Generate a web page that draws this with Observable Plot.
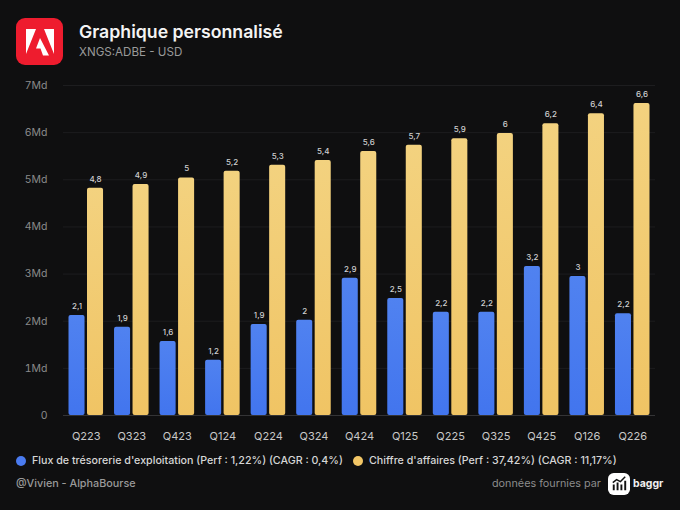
<!DOCTYPE html>
<html lang="fr"><head><meta charset="utf-8">
<script src="https://cdn.jsdelivr.net/npm/d3@7"></script>
<script src="https://cdn.jsdelivr.net/npm/@observablehq/plot@0.6"></script>
<style>
html,body{margin:0;padding:0;background:#0f0f10;width:680px;height:510px;overflow:hidden;font-family:Inter,sans-serif}
#wrap{position:relative;width:680px;height:510px}
#chart{position:absolute;left:0;top:0}
.t{position:absolute;white-space:nowrap;line-height:1}
.dot{position:absolute;width:10px;height:10px;border-radius:50%}
</style></head><body><div id="wrap">
<svg style="position:absolute;left:16px;top:18px" width="47" height="47" viewBox="0 0 47 47">
<rect width="47" height="47" rx="9" fill="#ee1c2e"/>
<path fill="#fff" d="M10 11h10L10 36zM28 11h10v25zM24 20l9 17.500h-6l-2.500-7h-4.500z"/>
</svg>
<div class="t" style="left:79px;top:23px;font-size:17.700px;font-weight:600;color:#f4f4f4">Graphique personnalisé</div>
<div class="t" style="left:79px;top:47px;font-size:11.600px;color:#9a9a9a">XNGS:ADBE - USD</div>
<div id="chart"></div>
<div class="dot" style="left:16px;top:456px;background:#4a7bf0"></div>
<div class="t" style="left:32px;top:456px;font-size:10.700px;font-weight:500;color:#d6d6d6">Flux de trésorerie d'exploitation (Perf : 1,22%) (CAGR : 0,4%)</div>
<div class="dot" style="left:353px;top:456px;background:#f2c666"></div>
<div class="t" style="left:369px;top:456px;font-size:10.700px;font-weight:500;color:#d6d6d6">Chiffre d'affaires (Perf : 37,42%) (CAGR : 11,17%)</div>
<div class="t" style="left:16px;top:479px;font-size:10.800px;font-weight:500;color:#9a9a9a">@Vivien - AlphaBourse</div>
<div class="t" style="left:492px;top:479px;font-size:10.800px;color:#8c8c8c">données fournies par</div>
<svg style="position:absolute;left:608px;top:473px" width="22" height="22" viewBox="0 0 23 23">
<rect width="23" height="23" rx="6" fill="#fff"/>
<path fill="#111" d="M5 12h2v6H5zM9 10h2v8H9zM13 12h2v6h-2zM17 8h2v10h-2z"/>
<path fill="none" stroke="#111" stroke-width="1.500" d="M5 10l4-3 4 2 5-5"/>
</svg>
<div class="t" style="left:633px;top:479px;font-size:10.500px;font-weight:700;color:#f0f0f0">baggr</div>
</div>
<script>
const quarters = ["Q223","Q323","Q423","Q124","Q224","Q324","Q424","Q125","Q225","Q325","Q425","Q126","Q226"];
const fluxValues = [2.12,1.87,1.57,1.17,1.93,2.02,2.91,2.48,2.19,2.19,3.16,2.95,2.16];
const revenueValues = [4.82,4.90,5.04,5.18,5.31,5.41,5.60,5.73,5.87,5.98,6.19,6.40,6.62];
const yTicks = [0,1,2,3,4,5,6,7];

const flux = quarters.map((q,i)=>({q, v:fluxValues[i]}));
const revenue = quarters.map((q,i)=>({q, v:revenueValues[i]}));
const fr = d => d3.format(".1~f")(d.v).replace(".",",");

const chart = Plot.plot({
  width:680, height:445,
  marginLeft:63, marginRight:25, marginTop:85, marginBottom:30,
  style:{background:"transparent", fontFamily:"Inter,sans-serif", overflow:"visible"},
  x:{domain:quarters, padding:0, round:false, label:null},
  y:{domain:[0,7], label:null},
  marks:[
    () => {
      const ns="http://www.w3.org/2000/svg";
      const defs=document.createElementNS(ns,"defs");
      defs.innerHTML=`
      <linearGradient id="gFlux" x1="0" y1="0" x2="0" y2="1"><stop offset="0" stop-color="#5082f0"/><stop offset="1" stop-color="#4275ee"/></linearGradient>
      <linearGradient id="gCA" x1="0" y1="0" x2="0" y2="1"><stop offset="0" stop-color="#f3d27f"/><stop offset="1" stop-color="#f0c464"/></linearGradient>`;
      return defs;
    },
    Plot.ruleY(yTicks.slice(1),{stroke:"#1d1d1f",strokeWidth:1}),
    Plot.ruleY([0],{stroke:"#343436",strokeWidth:1}),
    Plot.barY(flux,{x:"q",y:"v",fill:"url(#gFlux)",rx:2,insetLeft:5.5,insetRight:24}),
    Plot.barY(revenue,{x:"q",y:"v",fill:"url(#gCA)",rx:2,insetLeft:24,insetRight:5.5}),
    Plot.text(flux,{x:"q",y:"v",text:fr,dx:-9.25,dy:-9,fontSize:8,fontWeight:500,fill:"#d0d0d0"}),
    Plot.text(revenue,{x:"q",y:"v",text:fr,dx:9.25,dy:-9,fontSize:8,fontWeight:500,fill:"#d0d0d0"}),
    Plot.axisY(yTicks,{anchor:"left",tickSize:0,tickPadding:16,fontSize:10.5,color:"#8a8a8a",
      tickFormat:d=>d?d+"Md":"0",label:null}),
    Plot.axisX(quarters,{anchor:"bottom",tickSize:0,tickPadding:17,fontSize:11,color:"#c8c8c8",label:null})
  ]
});
document.getElementById("chart").appendChild(chart);
</script></body></html>
